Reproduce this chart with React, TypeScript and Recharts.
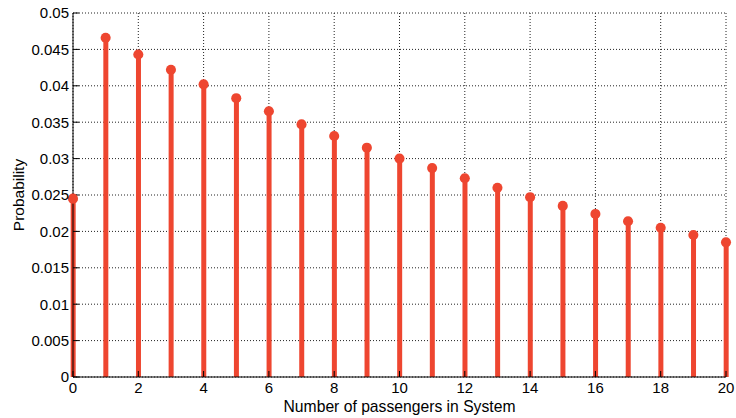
import React from "react";
import { ComposedChart, Bar, Scatter, XAxis, YAxis, ZAxis, CartesianGrid } from "recharts";

// number of passengers in the system
const passengers = [0, 1, 2, 3, 4, 5, 6, 7, 8, 9, 10, 11, 12, 13, 14, 15, 16, 17, 18, 19, 20];
// probability of each state
const probability = [
	0.0245, 0.0466, 0.0443, 0.0422, 0.0402, 0.0383, 0.0365, 0.0347, 0.0331, 0.0315, 0.0300,
	0.0287, 0.0273, 0.0260, 0.0247, 0.0235, 0.0224, 0.0214, 0.0205, 0.0195, 0.0185,
];
const xTicks = [0, 2, 4, 6, 8, 10, 12, 14, 16, 18, 20];
const yTicks = [0, 0.005, 0.01, 0.015, 0.02, 0.025, 0.03, 0.035, 0.04, 0.045, 0.05];

const STEM_COLOR = "#ee4630";
const FONT = "'Liberation Sans', Arial, sans-serif";

const data = passengers.map((n, i) => ({ n, p: probability[i] }));

const noTick = () => <g />;

export default function App() {
	return (
		<div style={{ position: "absolute", left: 0, top: 0, width: 736, height: 418, background: "#fff", fontFamily: FONT }}>
			<ComposedChart
				width={736}
				height={418}
				data={data}
				margin={{ top: 13, right: 10, left: 0, bottom: 0 }}
			>
				<CartesianGrid xAxisId="bottom" yAxisId="left" stroke="#222" strokeDasharray="1 2" />
				<XAxis
					xAxisId="bottom"
					dataKey="n"
					type="number"
					domain={[0, 20]}
					ticks={xTicks}
					height={41}
					tickSize={-6}
					tickMargin={11}
					stroke="#000"
					tick={{ fill: "#000", fontSize: 15, fontFamily: FONT }}
					label={{
						content: ({ viewBox }: any) => (
							<text x={viewBox.x + viewBox.width / 2} y={411.5} textAnchor="middle" fill="#000" fontSize={15.7} fontFamily={FONT}>
								Number of passengers in System
							</text>
						),
					}}
				/>
				<XAxis
					xAxisId="top"
					dataKey="n"
					type="number"
					orientation="top"
					domain={[0, 20]}
					ticks={xTicks}
					height={0}
					tickSize={-6}
					stroke="#000"
					tick={noTick}
				/>
				<YAxis
					yAxisId="left"
					type="number"
					domain={[0, 0.05]}
					ticks={yTicks}
					width={73}
					tickSize={-6}
					tickMargin={10}
					stroke="#000"
					tick={{ fill: "#000", fontSize: 15, fontFamily: FONT }}
					label={{
						content: ({ viewBox }: any) => (
							<text
								x={24}
								y={viewBox.y + viewBox.height / 2}
								transform={`rotate(-90 24 ${viewBox.y + viewBox.height / 2})`}
								textAnchor="middle"
								fill="#000"
								fontSize={15.5}
								fontFamily={FONT}
							>
								Probability
							</text>
						),
					}}
				/>
				<YAxis
					yAxisId="right"
					orientation="right"
					type="number"
					domain={[0, 0.05]}
					ticks={yTicks}
					width={0}
					tickSize={-6}
					stroke="#000"
					tick={noTick}
				/>
				<ZAxis range={[80, 80]} />
				<Bar
					xAxisId="bottom"
					yAxisId="left"
					dataKey="p"
					barSize={5}
					fill={STEM_COLOR}
					isAnimationActive={false}
				/>
				<Scatter
					xAxisId="bottom"
					yAxisId="left"
					dataKey="p"
					fill={STEM_COLOR}
					isAnimationActive={false}
				/>
			</ComposedChart>
		</div>
	);
}
